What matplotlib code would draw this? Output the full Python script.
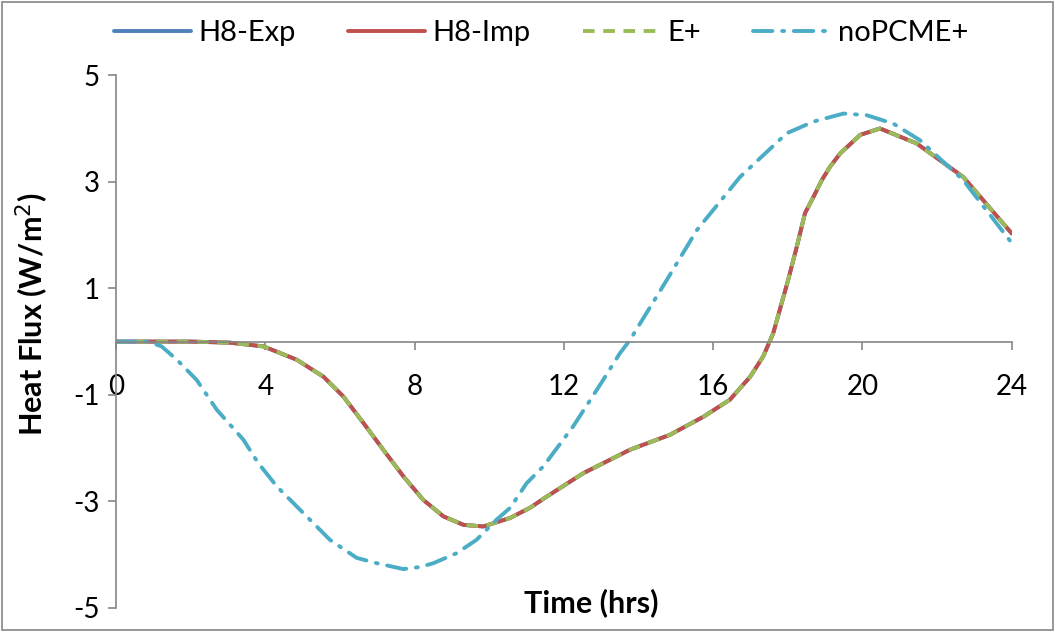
import matplotlib.pyplot as plt
from matplotlib.patches import Rectangle

# heat flux through the wall over one day (W/m2)
hora_h8 = [0, 1, 2, 3.05, 3.95, 4.84, 5.56, 6.09, 6.63, 7.16, 7.70, 8.23, 8.77, 9.31,
           9.84, 10.56, 11.09, 11.54, 12.52, 13.77, 14.84, 15.74, 16.45, 16.99, 17.34,
           17.61, 18.01, 18.24, 18.46, 18.69, 18.91, 19.13, 19.40, 19.94, 20.47, 21.45,
           22.70, 24.0]
h8_exp = [0, 0, 0, -0.02, -0.09, -0.34, -0.66, -1.03, -1.53, -2.03, -2.53, -2.97, -3.28, -3.44,
          -3.47, -3.31, -3.12, -2.91, -2.47, -2.03, -1.75, -1.41, -1.09, -0.66, -0.28,
          0.16, 1.16, 1.78, 2.41, 2.72, 3.03, 3.28, 3.53, 3.88, 4.0, 3.72,
          3.09, 2.03]
h8_imp = list(h8_exp)
e_plus = list(h8_exp)

hora_nopcm = [0, 0.85, 1.22, 1.63, 2.16, 2.70, 3.41, 3.81, 4.31, 5.02, 5.73, 6.45, 6.99, 7.70,
              8.15, 8.50, 9.13, 9.66, 10.2, 10.56, 11.0, 11.45, 12.25, 12.97, 13.5, 13.77,
              14.76, 15.56, 16.72, 17.97, 18.69, 19.49, 20.11, 20.83, 21.54, 22.70, 24.0]
nopcm = [0, 0, -0.09, -0.34, -0.72, -1.28, -1.84, -2.28, -2.72, -3.22, -3.72, -4.06, -4.16, -4.27,
         -4.23, -4.16, -3.97, -3.72, -3.34, -3.12, -2.66, -2.34, -1.59, -0.81, -0.22, 0.03,
         1.16, 2.09, 3.09, 3.91, 4.13, 4.28, 4.25, 4.09, 3.78, 3.03, 1.85]

xticks = [0, 4, 8, 12, 16, 20, 24]
yticks = [-5, -3, -1, 1, 3, 5]

plt.rcParams['font.family'] = ['Lato', 'DejaVu Sans']
plt.rcParams['axes.unicode_minus'] = False
gris = '#868686'

fig = plt.figure(figsize=(10.55, 6.32), dpi=100)
ax = fig.add_axes([0.110, 0.038, 0.849, 0.843])

ax.plot(hora_h8, h8_exp, color='#4F81BD', lw=2.8, label='H8-Exp', solid_capstyle='round')
ax.plot(hora_h8, h8_imp, color='#C0504D', lw=2.8, label='H8-Imp', solid_capstyle='round')
ax.plot(hora_h8, e_plus, color='#9BBB59', lw=2.8, dashes=[3, 2.2], label='E+')
ax.plot(hora_nopcm, nopcm, color='#4BACC6', lw=2.8, dashes=[5, 2.5, 0.5, 2.5],
        label='noPCME+', dash_capstyle='round')

ax.set_xlim(0, 24)
ax.set_ylim(-5, 5)
ax.set_xticks(xticks)
ax.set_yticks(yticks)

ax.spines['top'].set_visible(False)
ax.spines['right'].set_visible(False)
ax.spines['bottom'].set_position(('data', 0))
for s in ['left', 'bottom']:
    ax.spines[s].set_color(gris)
    ax.spines[s].set_linewidth(1.2)
ax.tick_params(axis='both', colors=gris, labelcolor='black', length=6, width=1.2,
               labelsize=20)
ax.tick_params(axis='x', pad=17)
ax.tick_params(axis='y', pad=6)

ax.set_xlabel('Time (hrs)', fontsize=22, fontweight='bold', va='center')
ax.xaxis.set_label_coords(0.531, 0.01)
ax.set_ylabel('Heat Flux (W/m$^2$)', fontsize=22, fontweight='bold', va='center')
ax.yaxis.set_label_coords(-0.093, 0.552)

fig.legend(loc='center', bbox_to_anchor=(0.513, 0.948), ncol=4, frameon=False,
           fontsize=21, handlelength=2.64, handletextpad=0.27, columnspacing=1.78)

fig.patches.append(Rectangle((0.002, 0.003), 0.996, 0.994, transform=fig.transFigure,
                             fill=False, edgecolor=gris, lw=1.2))

fig.savefig('out.png', dpi=100)
